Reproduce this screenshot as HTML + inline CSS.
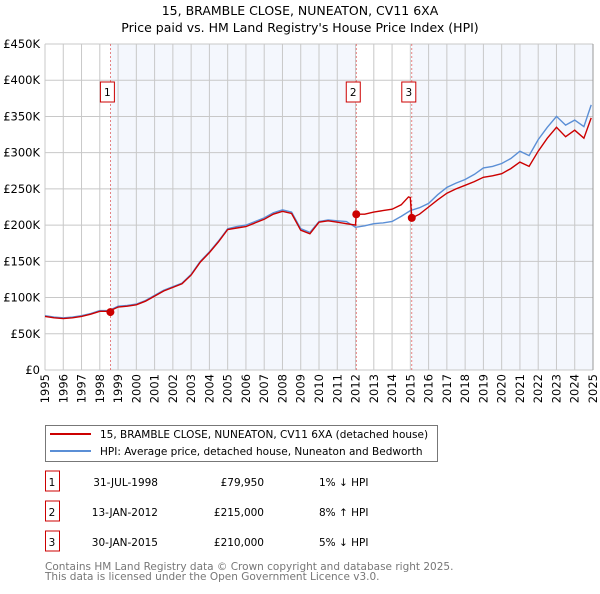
<!DOCTYPE html>
<html><head><meta charset="utf-8"><style>
body{margin:0;background:#fff;font-family:"DejaVu Sans","Liberation Sans",sans-serif;}
svg text{font-family:"DejaVu Sans","Liberation Sans",sans-serif;}
</style></head><body>
<svg id="chart" width="600" height="590" xmlns="http://www.w3.org/2000/svg">
<text x="300" y="15" font-size="12.5" text-anchor="middle">15, BRAMBLE CLOSE, NUNEATON, CV11 6XA</text>
<text x="300" y="32" font-size="12.5" text-anchor="middle">Price paid vs. HM Land Registry's House Price Index (HPI)</text>
<g id="plot"></g>
<g>
<rect x="45.5" y="425.5" width="392" height="36" fill="#fff" stroke="#777"/>
<line x1="50" y1="434" x2="91" y2="434" stroke="#cc0000" stroke-width="2"/>
<text x="100" y="438" font-size="10.5">15, BRAMBLE CLOSE, NUNEATON, CV11 6XA (detached house)</text>
<line x1="50" y1="451" x2="91" y2="451" stroke="#5b8fd6" stroke-width="2"/>
<text x="100" y="455" font-size="10.5">HPI: Average price, detached house, Nuneaton and Bedworth</text>
</g>
<g id="table" font-size="10.5"></g>
<text x="45" y="570" font-size="10.5" fill="#777">Contains HM Land Registry data © Crown copyright and database right 2025.</text>
<text x="45" y="580" font-size="10.5" fill="#777">This data is licensed under the Open Government Licence v3.0.</text>
</svg>
<script>
const hpiYears=[1995,1995.5,1996,1996.5,1997,1997.5,1998,1998.5,1999,1999.5,2000,2000.5,2001,2001.5,2002,2002.5,2003,2003.5,2004,2004.5,2005,2005.5,2006,2006.5,2007,2007.5,2008,2008.5,2009,2009.5,2010,2010.5,2011,2011.5,2012,2012.5,2013,2013.5,2014,2014.5,2015,2015.5,2016,2016.5,2017,2017.5,2018,2018.5,2019,2019.5,2020,2020.5,2021,2021.5,2022,2022.5,2023,2023.5,2024,2024.5,2024.9];
const hpiValues=[75,73,72,73,75,78,82,82,88,89,91,96,103,110,115,120,132,150,163,178,195,198,200,205,210,217,221,218,195,190,205,207,206,205,197,199,202,203,205,212,220,224,230,242,252,258,263,270,279,281,285,292,302,296,318,335,350,338,345,336,366];
const redYears=[1995,1995.5,1996,1996.5,1997,1997.5,1998,1998.5,1999,1999.5,2000,2000.5,2001,2001.5,2002,2002.5,2003,2003.5,2004,2004.5,2005,2005.5,2006,2006.5,2007,2007.5,2008,2008.5,2009,2009.5,2010,2010.5,2011,2011.5,2012,2012.04,2012.5,2013,2013.5,2014,2014.5,2014.9,2015,2015.08,2015.5,2016,2016.5,2017,2017.5,2018,2018.5,2019,2019.5,2020,2020.5,2021,2021.5,2022,2022.5,2023,2023.5,2024,2024.5,2024.9];
const redValues=[74,72,71,72,74,77,81,81,87,88,90,95,102,109,114,119,131,149,162,177,194,196,198,203,208,215,219,216,193,188,204,206,204,202,200,215,215,218,220,222,228,239,238,210,215,225,235,244,250,255,260,266,268,271,278,287,281,302,320,335,322,331,320,348];
const saleLabels=["1","2","3"];
const saleYears=[1998.58,2012.04,2015.08];
const saleValues=[79.95,215,210];
const saleDates=["31-JUL-1998","13-JAN-2012","30-JAN-2015"];
const salePrices=["£79,950","£215,000","£210,000"];
const saleDiffs=["1% ↓ HPI","8% ↑ HPI","5% ↓ HPI"];
const yTicks=[0,50,100,150,200,250,300,350,400,450];
const yTickLabels=["£0","£50K","£100K","£150K","£200K","£250K","£300K","£350K","£400K","£450K"];
const xTicks=[1995,1996,1997,1998,1999,2000,2001,2002,2003,2004,2005,2006,2007,2008,2009,2010,2011,2012,2013,2014,2015,2016,2017,2018,2019,2020,2021,2022,2023,2024,2025];

const NS="http://www.w3.org/2000/svg";
const X0=45,X1=593,Y0=370,Y1=44;
const xs=y=>X0+(y-1995)/30*(X1-X0);
const ys=v=>Y0-v/450*(Y0-Y1);
function mk(tag,attrs,parent){const e=document.createElementNS(NS,tag);for(const k in attrs)e.setAttribute(k,attrs[k]);parent.appendChild(e);return e;}
const plot=document.getElementById('plot');
let r=mk('rect',{x:X0,y:Y1,width:X1-X0,height:Y0-Y1,fill:'#fff'},plot);


const shadeRanges=[[saleYears[0],saleYears[1]],[saleYears[2],2025]];
shadeRanges.forEach(s=>{const e=mk('rect',{x:xs(s[0]),y:Y1,width:xs(s[1])-xs(s[0]),height:Y0-Y1,fill:'#f4f7fd'},plot);

});
yTicks.forEach((t,i)=>{const l=mk('line',{x1:X0,x2:X1,y1:ys(t),y2:ys(t),stroke:'#c8c8c8'},plot);


const tx=mk('text',{x:40,y:ys(t)+4,'font-size':'11.5','text-anchor':'end'},plot);tx.textContent=yTickLabels[i];

});
xTicks.forEach(t=>{const l=mk('line',{x1:xs(t),x2:xs(t),y1:Y1,y2:Y0,stroke:'#c8c8c8'},plot);


const tx=mk('text',{x:0,y:0,'font-size':'11.5','text-anchor':'end',transform:`translate(${xs(t)+4},374) rotate(-90)`},plot);tx.textContent=t;

});
mk('line',{x1:X1,x2:X1,y1:Y1,y2:Y0,stroke:'#999'},plot);
saleYears.forEach((y,i)=>{const l=mk('line',{x1:xs(y),x2:xs(y),y1:Y1,y2:Y0,stroke:'#e05050','stroke-dasharray':'2,2','stroke-width':'0.7'},plot);


const b=mk('rect',{x:xs(y)-10,y:82,width:14,height:20,fill:'#fff',stroke:'#cc0000'},plot);


const tx=mk('text',{x:xs(y)-3,y:96,'font-size':'10.5','text-anchor':'middle'},plot);tx.textContent=saleLabels[i];

});
function path(yrs,vals,color,name){const d=yrs.map((y,i)=>(i?'L':'M')+xs(y).toFixed(1)+','+ys(vals[i]).toFixed(1)).join('');
const p=mk('path',{d:d,fill:'none',stroke:color,'stroke-width':'1.4'},plot);

}
path(hpiYears,hpiValues,'#5b8fd6','hpi-line');
path(redYears,redValues,'#cc0000','property-price-line');
saleYears.forEach((y,i)=>{const c=mk('circle',{cx:xs(y),cy:ys(saleValues[i]),r:4,fill:'#cc0000'},plot);

});
const table=document.getElementById('table');
saleLabels.forEach((s,i)=>{const y=483+i*30;
const b=mk('rect',{x:45.5,y:y-12,width:14,height:20,fill:'#fff',stroke:'#cc0000'},table);


const cells=[[s,52,'middle'],[saleDates[i],158,'end'],[salePrices[i],264,'end'],[saleDiffs[i],319,'start']];
cells.forEach(c=>{const t=mk('text',{x:c[1],y:y+3,'text-anchor':c[2]},table);t.textContent=c[0];

});});
</script>
</body></html>
